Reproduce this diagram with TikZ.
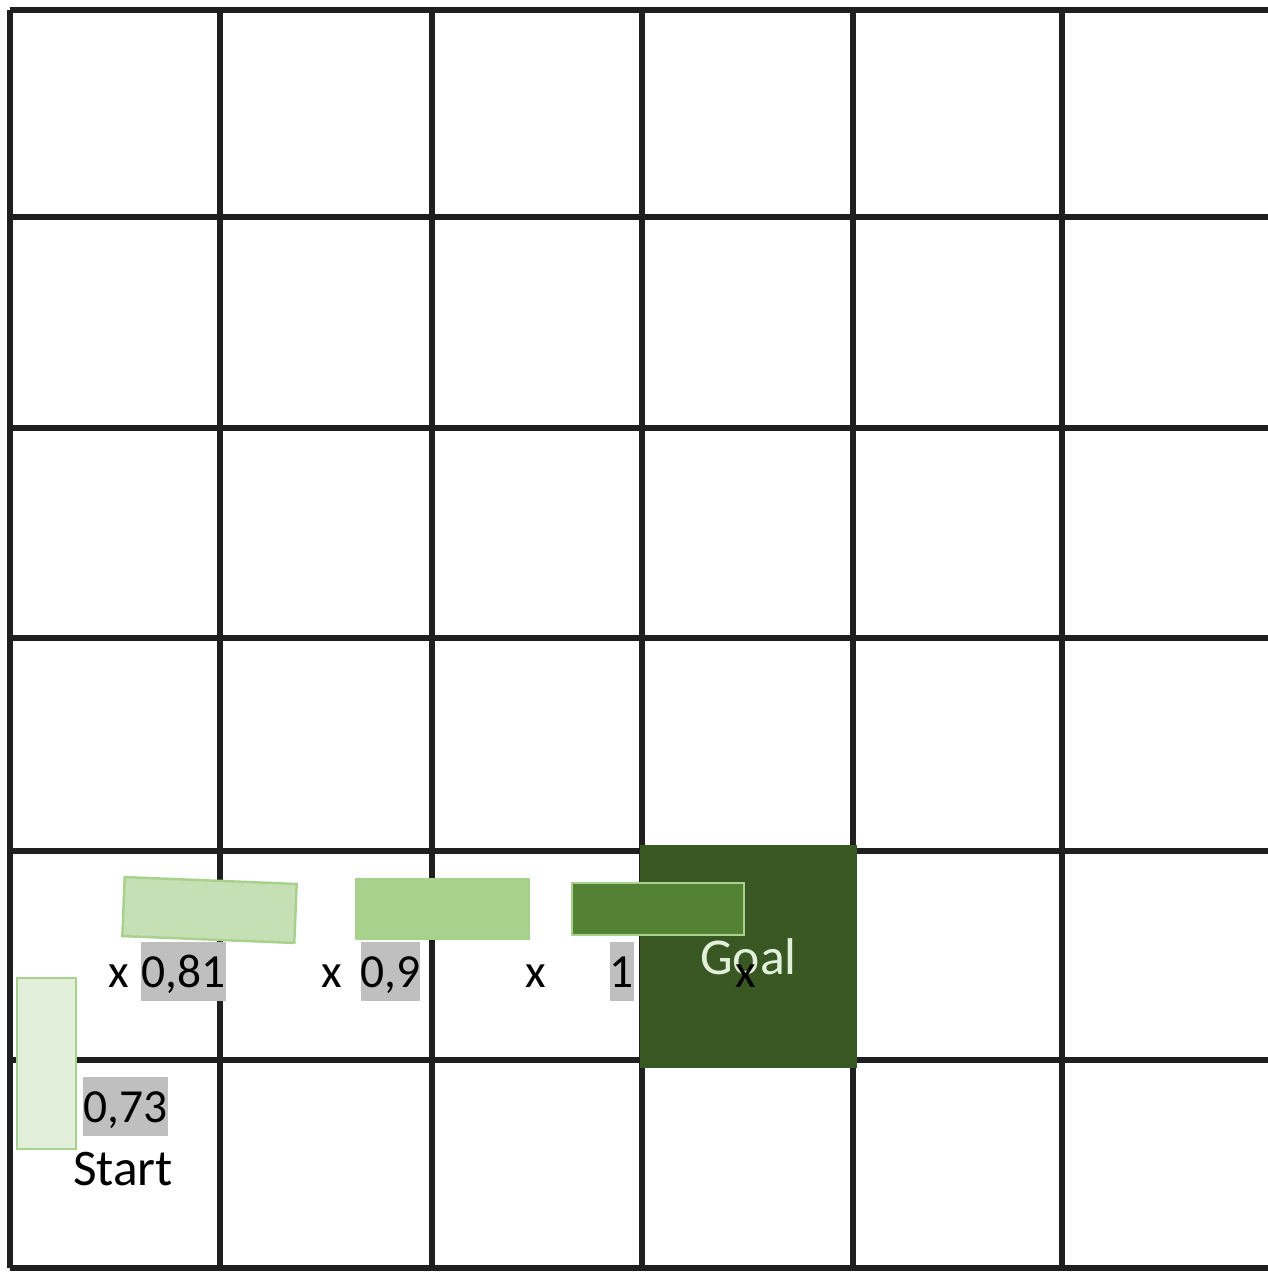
\documentclass[tikz,border=0pt]{standalone}
\usepackage{fontspec}
\setmainfont{Carlito}
\usetikzlibrary{positioning}
\definecolor{goalgreen}{HTML}{385723}
\definecolor{barone}{HTML}{C5E0B4}
\definecolor{bartwo}{HTML}{A9D18E}
\definecolor{barthree}{HTML}{548235}
\definecolor{barstart}{HTML}{E2EFDA}
\definecolor{barborder}{HTML}{A9D18E}
\definecolor{labelgray}{HTML}{BFBFBF}
\definecolor{goaltext}{HTML}{E2F0D9}
\tikzset{
  gridline/.style={line width=1.45pt, color=black!88},
  valuebar/.style={
    draw=barborder, line width=0.7pt, inner sep=0pt
  },
  valuelabel/.style={
    fill=labelgray, anchor=base, font=\fontsize{13.5}{16}\selectfont,
    text height=0.41cm, text depth=0.1cm, inner xsep=0pt, inner ysep=0.04cm
  },
  timeslabel/.style={
    anchor=base, inner sep=0pt, font=\fontsize{13.5}{16}\selectfont
  },
  goalcell/.style={
    fill=goalgreen, minimum width=2.17cm, minimum height=2.23cm,
    text=goaltext, font=\fontsize{14.7}{17}\selectfont
  },
}
\begin{document}
\begin{tikzpicture}[x=0.01cm, y=-0.01cm]
  \useasboundingbox (0,0) rectangle (1268,1273);
  \fill[white] (0,0) rectangle (1268,1273);

  % Grid
  \foreach \gx in {10,220,432,642,853,1062}
    \draw[gridline] (\gx,10) -- (\gx,1268);
  \foreach \gy in {10,217,428,638,851,1060,1268}
    \draw[gridline] (10,\gy) -- (1268,\gy);

  % Goal
  \node[goalcell] (goal) at (748.5,956.5) {Goal};

  % Value bars
  \node[valuebar, fill=barstart, minimum width=0.59cm, minimum height=1.71cm]
    (startbar) at (46.5,1063.5) {};
  \node[valuebar, fill=barone, minimum width=1.72cm, minimum height=0.59cm,
    rotate=-2.3] (barA) at (209.5,910) {};
  \node[valuebar, draw=bartwo, fill=bartwo, minimum width=1.73cm,
    minimum height=0.6cm] (barB) at (442.5,909) {};
  \node[valuebar, fill=barthree, minimum width=1.72cm, minimum height=0.52cm]
    (barC) at (658,909) {};

  % Discount labels
  \node[timeslabel] (timesA) at (119,987) {x};
  \node[valuelabel] (valA) at (183.5,987) {0,81};
  \node[timeslabel] (timesB) at (332,987) {x};
  \node[valuelabel] (valB) at (390.5,987) {0,9};
  \node[timeslabel] (timesC) at (535.5,987) {x};
  \node[valuelabel] (valC) at (622,987) {1};
  \node[timeslabel] (timesD) at (746,987) {x};

  % Start
  \node[valuelabel] (valStart) at (125.5,1122) {0,73};
  \node[timeslabel, font=\fontsize{14.6}{17}\selectfont] (start)
    at (123,1185) {Start};
\end{tikzpicture}
\end{document}
